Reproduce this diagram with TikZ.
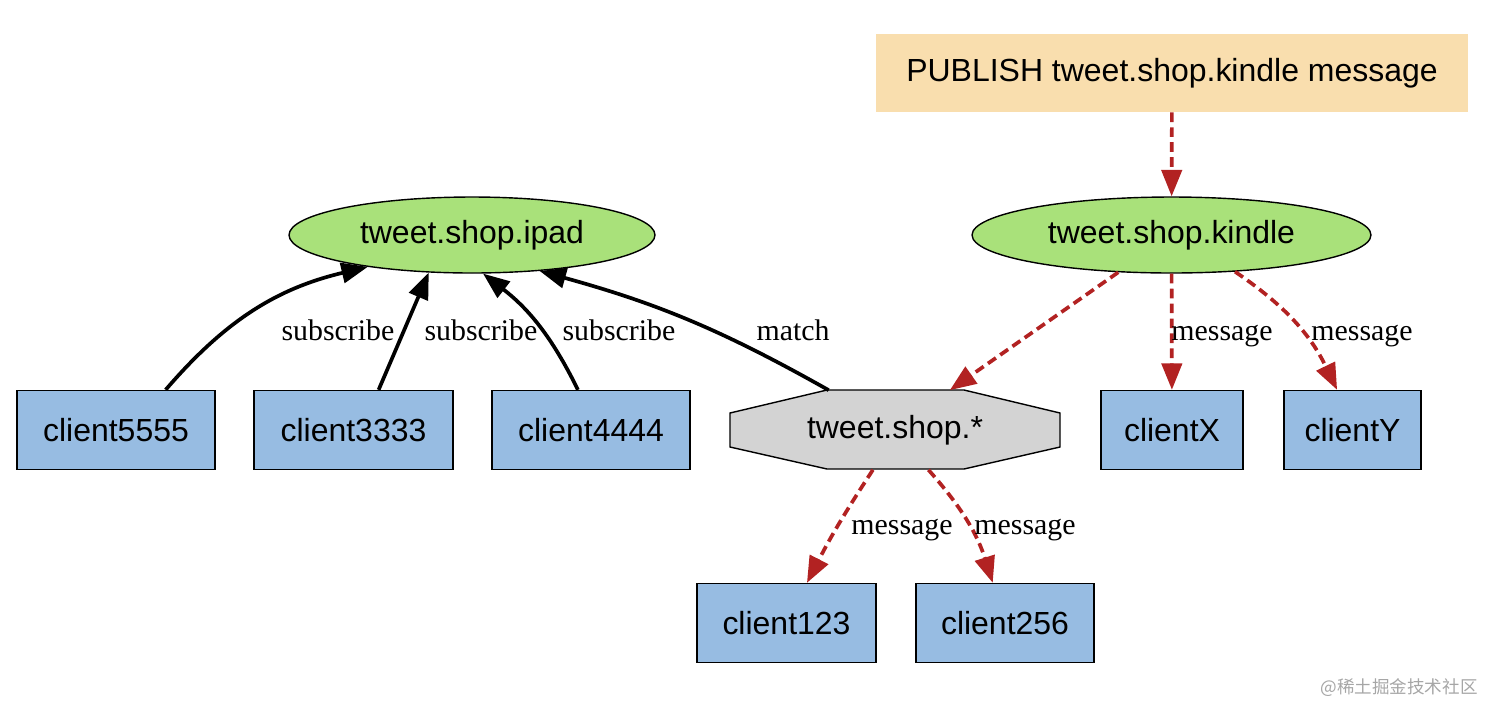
\documentclass[tikz,border=0pt]{standalone}
\usepackage{fontspec}
\setmainfont{Liberation Serif}
\newfontfamily\arialfont{Liberation Sans}
\newfontfamily\cjk{Noto Sans CJK SC}
\usetikzlibrary{shapes.geometric,arrows.meta,calc}
\definecolor{boxblue}{RGB}{151,188,226}
\definecolor{topicgreen}{RGB}{169,225,122}
\definecolor{pubwheat}{RGB}{249,222,174}
\definecolor{patgray}{RGB}{211,211,211}
\definecolor{msgred}{RGB}{178,34,34}
\tikzset{
  client/.style={draw, fill=boxblue, line width=0.8pt, minimum height=1.58cm, inner sep=0pt, font=\arialfont\fontsize{18.2}{22}\selectfont},
  topic/.style={ellipse, draw, fill=topicgreen, line width=0.8pt, minimum height=1.52cm, inner sep=0pt, font=\arialfont\fontsize{18.2}{22}\selectfont},
  sub/.style={line width=2.1pt, -{Triangle[length=15pt,width=11.5pt]}},
  msg/.style={msgred, line width=2.1pt, dash pattern=on 5.5pt off 3pt, -{Triangle[length=15pt,width=11.5pt]}},
  lbl/.style={font=\fontsize{17}{20}\selectfont, inner sep=0pt, anchor=base}
}
\begin{document}
\begin{tikzpicture}[x=0.02cm, y=-0.02cm]
	\useasboundingbox (0, 0) rectangle (1500, 718);
	% publish command
	\node[fill=pubwheat, minimum width=11.84cm, minimum height=1.56cm, inner sep=0pt, font=\arialfont\fontsize{18.2}{22}\selectfont] (pub) at (1172, 73) {PUBLISH tweet.shop.kindle message};
	% channels
	\node[topic, minimum width=7.32cm] (ipad) at (472, 235) {tweet.shop.ipad};
	\node[topic, minimum width=7.98cm] (kindle) at (1171.5, 235) {tweet.shop.kindle};
	% pattern
	\filldraw[fill=patgray, line width=0.8pt] (730, 413) -- (827, 390) -- (964, 390) -- (1060, 413) -- (1060, 447) -- (964, 469) -- (827, 469) -- (730, 447) -- cycle;
	\node[minimum width=6.6cm, minimum height=1.58cm, inner sep=0pt, font=\arialfont\fontsize{18.2}{22}\selectfont] (oct) at (895, 430) {tweet.shop.*};
	% clients
	\node[client, minimum width=3.96cm] (c5555) at (116, 430) {client5555};
	\node[client, minimum width=3.98cm] (c3333) at (353.5, 430) {client3333};
	\node[client, minimum width=3.96cm] (c4444) at (591, 430) {client4444};
	\node[client, minimum width=2.84cm] (cX) at (1172, 430) {clientX};
	\node[client, minimum width=2.74cm] (cY) at (1352.5, 430) {clientY};
	\node[client, minimum width=3.58cm] (c123) at (786.5, 623) {client123};
	\node[client, minimum width=3.56cm] (c256) at (1005, 623) {client256};
	% subscriptions
	\draw[sub] (c5555.39) to[bend left=18] (ipad.197);
	\draw[sub] (c3333.58) -- (ipad.221);
	\draw[sub] (c4444.108) to[bend right=13] (ipad.286);
	\draw[sub] (oct.149) to[bend right=7] (ipad.332);
	% messages
	\draw[msg] (pub) -- (kindle);
	\draw[msg] (kindle.215) -- (oct.36);
	\draw[msg] (kindle) -- (cX);
	\draw[msg] (kindle.330) to[bend left=15] (cY.111);
	\draw[msg] (oct.241) to[bend right=3] (c123.63);
	\draw[msg] (oct.310) to[bend left=12] (c256.107);
	% edge labels
	\node[lbl] (l1) at (338, 340) {subscribe};
	\node[lbl] (l2) at (481, 340) {subscribe};
	\node[lbl] (l3) at (619, 340) {subscribe};
	\node[lbl] (l4) at (793, 340) {match};
	\node[lbl] (l5) at (1222, 340) {message};
	\node[lbl] (l6) at (1362, 340) {message};
	\node[lbl] (l7) at (902, 534) {message};
	\node[lbl] (l8) at (1025, 534) {message};
	% watermark
	\node[text=black!35, font=\cjk\fontsize{10}{12}\selectfont, inner sep=0pt] (wm) at (1399, 688) {@稀土掘金技术社区};
\end{tikzpicture}
\end{document}
